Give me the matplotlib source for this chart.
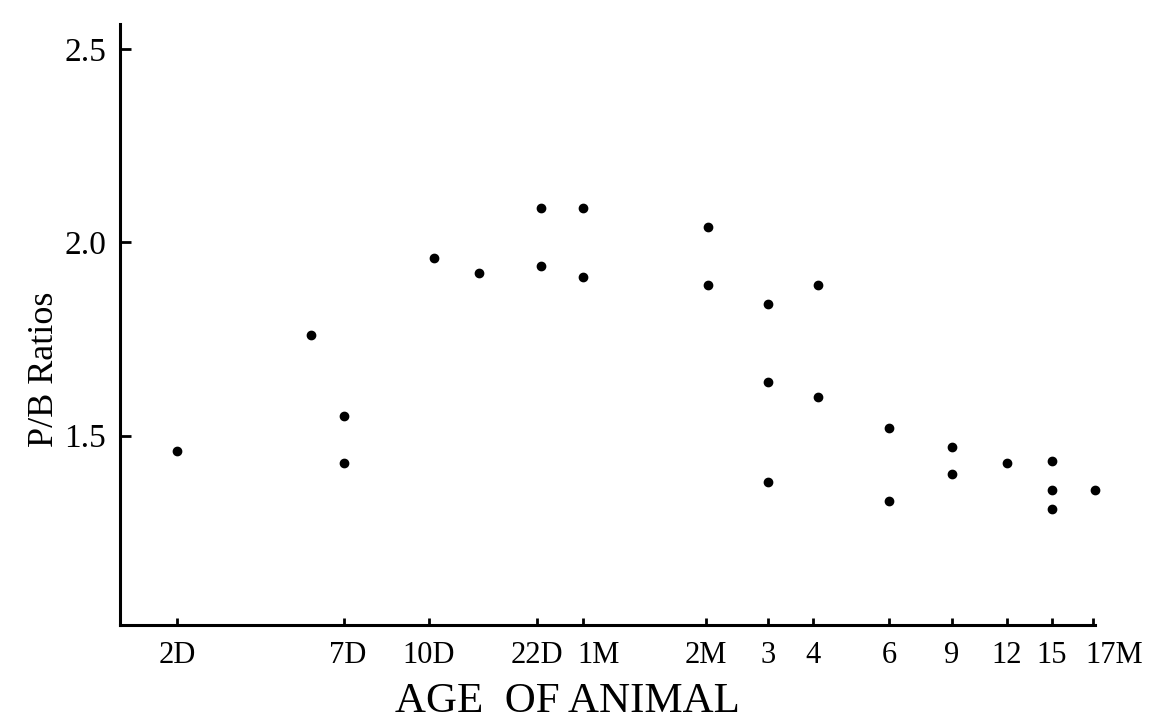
import matplotlib
matplotlib.use("Agg")
import matplotlib.pyplot as plt
from matplotlib.transforms import ScaledTranslation

# x axis is hand-drawn and uneven, so ages sit at fixed positions along it
tick_labels = ["2D", "7D", "10D", "22D", "1M", "2M", "3", "4", "6", "9", "12", "15", "17M"]
tick_pos = [5.7, 22.4, 30.9, 41.7, 46.3, 58.6, 64.8, 69.3, 76.9, 83.2, 88.7, 93.2, 97.3]

# P/B ratio readings (position along age axis, ratio)
age_pos = [5.7, 19.1, 22.4, 22.4, 31.4, 35.9, 42.1, 42.1, 46.3, 46.3,
           58.8, 58.8, 64.8, 64.8, 64.8, 69.8, 69.8, 76.9, 76.9,
           83.2, 83.2, 88.7, 93.2, 93.2, 93.2, 97.5]
pb_ratio = [1.46, 1.76, 1.55, 1.43, 1.96, 1.92, 2.09, 1.94, 2.09, 1.91,
            2.04, 1.89, 1.84, 1.64, 1.38, 1.89, 1.60, 1.52, 1.33,
            1.47, 1.40, 1.43, 1.435, 1.36, 1.31, 1.36]

y_ticks = [1.5, 2.0, 2.5]
y_tick_labels = ["1.5", "2.0", "2.5"]

# labels that sit a little off their tick in the original (points)
label_shift = {"7D": 3, "1M": 11, "17M": 15}

plt.rcParams["font.family"] = ["Liberation Serif", "DejaVu Serif"]

fig = plt.figure(figsize=(11.58, 7.22), dpi=100)
ax = fig.add_axes([0.1036, 0.134, 0.842, 0.833])

ax.plot(age_pos, pb_ratio, "o", color="black", markersize=6, clip_on=False)

ax.set_xlim(0, 97.5)
ax.set_ylim(1.01, 2.565)

ax.spines["top"].set_visible(False)
ax.spines["right"].set_visible(False)
for side in ["left", "bottom"]:
    ax.spines[side].set_linewidth(2.2)

ax.set_xticks(tick_pos)
ax.set_xticklabels(tick_labels)
ax.set_yticks(y_ticks)
ax.set_yticklabels(y_tick_labels)
ax.tick_params(axis="x", direction="in", length=5, width=2, labelsize=22, pad=11)
ax.tick_params(axis="y", direction="in", length=8, width=2, labelsize=24, pad=10)

for lbl in ax.get_xticklabels():
    dx = label_shift.get(lbl.get_text(), 0)
    if dx:
        lbl.set_transform(lbl.get_transform() + ScaledTranslation(dx / 72, 0, fig.dpi_scale_trans))

ax.set_xlabel("AGE  OF ANIMAL", fontsize=31)
ax.xaxis.set_label_coords(0.459, -0.095)
ax.set_ylabel("P/B Ratios", fontsize=26, va="center")
ax.yaxis.set_label_coords(-0.077, 0.426)

fig.savefig("out.png", dpi=100)
